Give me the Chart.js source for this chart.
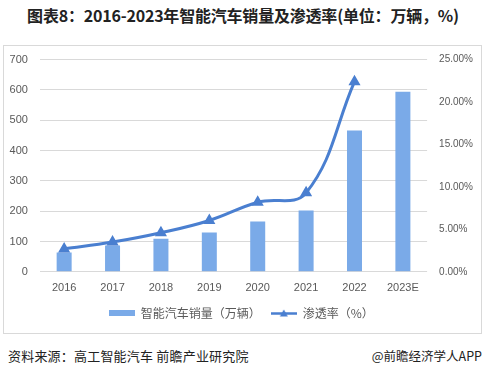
<!DOCTYPE html>
<html>
<head>
<meta charset="utf-8">
<script src="https://cdn.jsdelivr.net/npm/chart.js@4"></script>
<style>
  body { margin: 0; width: 486px; height: 377px; background: #fff; font-family: "Noto Sans CJK SC", "Liberation Sans", sans-serif; position: relative; overflow: hidden; }
  #title { position: absolute; left: 0; top: 3px; width: 486px; text-align: center; font-size: 16px; font-weight: bold; color: #222; letter-spacing: -0.2px; }
  #frame { position: absolute; left: 3px; top: 45px; width: 477px; height: 287px; border: 1px solid #d9d9d9; }
  #wrap { position: absolute; left: 4px; top: 41px; width: 477px; height: 291px; }
  #src { position: absolute; left: 8px; top: 346px; font-size: 13px; color: #222; letter-spacing: 0.2px; }
  #app { position: absolute; right: 4px; top: 346px; font-size: 12.5px; color: #222; }
</style>
</head>
<body>
<div id="title">图表8：2016-2023年智能汽车销量及渗透率(单位：万辆，%)</div>
<div id="frame"></div>
<div id="wrap"><canvas id="myChart"></canvas></div>
<div id="src">资料来源：高工智能汽车 前瞻产业研究院</div>
<div id="app">@前瞻经济学人APP</div>
<script>
// categories and values
const years = ['2016', '2017', '2018', '2019', '2020', '2021', '2022', '2023E'];
const sales = [64, 87, 109, 130, 166, 202, 466, 594];          // 万辆
const rate  = [2.7, 3.5, 4.6, 6.05, 8.2, 9.3, 22.4, null];     // %
const leftTicks  = [0, 700, 100];
const rightTicks = [0, 25, 5];

const BAR = '#7aaae8';
const LINE = '#4a7fd0';

function legendIcon(kind) {
  const c = document.createElement('canvas');
  c.width = 26; c.height = 8;
  const g = c.getContext('2d');
  if (kind === 'bar') {
    g.fillStyle = BAR;
    g.fillRect(0, 1, 26, 6);
  } else {
    g.strokeStyle = LINE;
    g.lineWidth = 2.5;
    g.beginPath(); g.moveTo(0, 4.5); g.lineTo(26, 4.5); g.stroke();
    g.fillStyle = LINE;
    g.beginPath(); g.moveTo(13, 0.5); g.lineTo(17, 7.5); g.lineTo(9, 7.5); g.closePath(); g.fill();
  }
  return c;
}

document.addEventListener('DOMContentLoaded', function () {
  const config = {
    type: 'bar',
    data: {
      labels: years,
      datasets: [
        {
          type: 'bar',
          label: '智能汽车销量（万辆）',
          data: sales,
          backgroundColor: BAR,
          barPercentage: 0.31,
          categoryPercentage: 1,
          yAxisID: 'y',
          order: 2,
        },
        {
          type: 'line',
          label: '渗透率（%）',
          data: rate,
          borderColor: LINE,
          backgroundColor: LINE,
          borderWidth: 3,
          tension: 0.4,
          pointStyle: 'triangle',
          pointRadius: 4,
          pointBackgroundColor: LINE,
          pointBorderColor: LINE,
          yAxisID: 'y1',
          order: 1,
        }
      ]
    },
    options: {
      animation: false,
      responsive: true,
      maintainAspectRatio: false,
      layout: { padding: { left: -6.4, right: -4, top: 0, bottom: 3 } },
      plugins: {
        legend: {
          position: 'bottom',
          labels: {
            usePointStyle: true,
            pointStyleWidth: 26,
            padding: 10,
            color: '#595959',
            font: { size: 12, family: '"Noto Sans CJK SC", sans-serif' },
            generateLabels: function (chart) {
              return chart.data.datasets.map((ds, i) => ({
                text: ds.label,
                fontColor: '#595959',
                pointStyle: legendIcon(i === 0 ? 'bar' : 'line'),
                datasetIndex: i,
                hidden: false,
                lineWidth: 0,
              }));
            },
          },
        },
        tooltip: { enabled: false },
      },
      scales: {
        x: {
          grid: { display: false },
          border: { display: false },
          ticks: { color: '#595959', font: { size: 11, family: '"Liberation Sans", sans-serif' }, padding: 2 },
        },
        y: {
          position: 'left',
          min: leftTicks[0],
          max: leftTicks[1],
          ticks: { stepSize: leftTicks[2], color: '#595959', font: { size: 11, family: '"Liberation Sans", sans-serif' }, padding: 12 },
          grid: { color: '#d9d9d9', drawTicks: false },
          border: { display: false },
        },
        y1: {
          position: 'right',
          min: rightTicks[0],
          max: rightTicks[1],
          ticks: {
            stepSize: rightTicks[2],
            color: '#595959',
            font: { size: 10, family: '"Liberation Sans", sans-serif' },
            padding: 12,
            callback: v => v.toFixed(2) + '%',
          },
          grid: { display: false, drawTicks: false },
          border: { display: false },
        }
      }
    }
  };
  new Chart(document.getElementById('myChart').getContext('2d'), config);
});
</script>
</body>
</html>
